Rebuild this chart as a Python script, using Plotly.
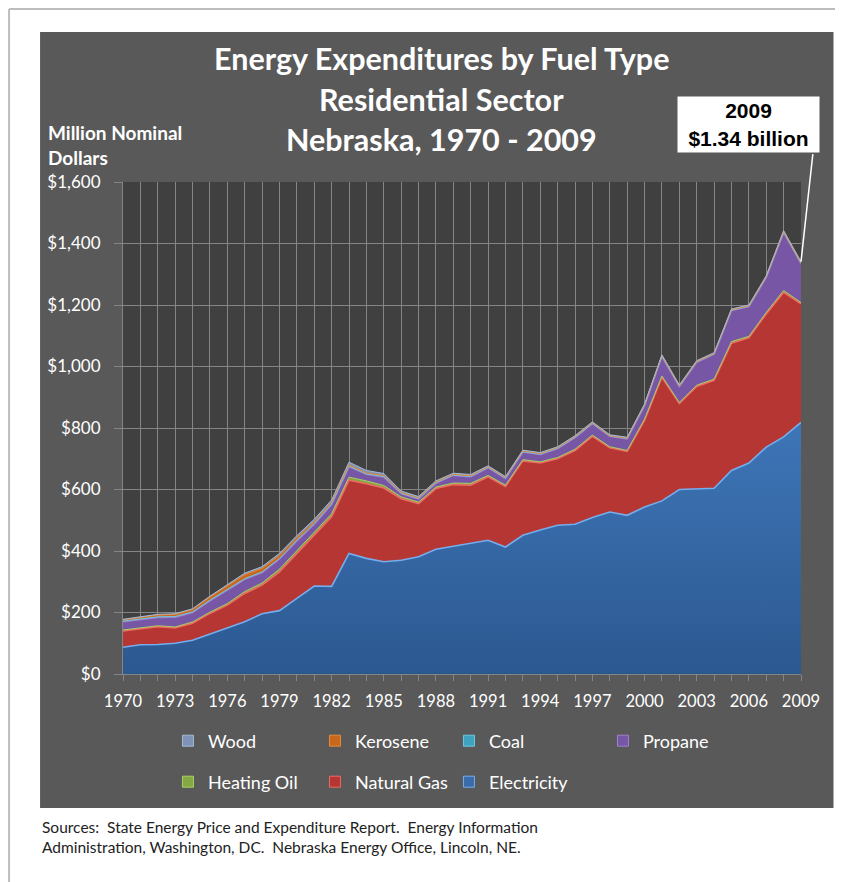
import plotly.graph_objects as go

# Nebraska residential energy expenditures, million nominal dollars
years = list(range(1970, 2010))

electricity = [87, 95, 96, 100, 110, 130, 150, 170, 196, 206,
               246, 286, 285, 392, 376, 365, 370, 381, 406, 416,
               424, 435, 413, 451, 468, 484, 487, 509, 527, 516,
               543, 563, 600, 602, 604, 662, 686, 738, 771, 818]
natural_gas = [53, 53, 58, 50, 55, 67, 74, 92, 93, 126,
               146, 165, 226, 238, 243, 240, 200, 173, 197, 200,
               190, 206, 197, 242, 218, 216, 240, 264, 209, 208,
               282, 402, 280, 333, 351, 414, 407, 433, 470, 386]
heating_oil = [3, 3, 3, 3, 4, 4, 5, 6, 7, 9,
               10, 11, 10, 10, 9, 8, 6, 5, 5, 5,
               6, 5, 4, 4, 4, 4, 4, 4, 3, 3,
               4, 4, 3, 4, 4, 5, 5, 5, 6, 4]
propane = [27, 25, 27, 32, 31, 37, 43, 40, 34, 33,
           31, 25, 31, 35, 22, 28, 11, 11, 13, 25,
           22, 25, 22, 25, 24, 29, 38, 37, 34, 38,
           44, 64, 52, 75, 81, 101, 97, 114, 189, 127]
coal = [2, 2, 2, 2, 2, 2, 2, 2, 2, 2,
        2, 2, 1, 1, 1, 1, 1, 1, 1, 1,
        1, 1, 1, 1, 1, 1, 1, 1, 1, 1,
        1, 1, 1, 1, 1, 1, 1, 1, 1, 1]
kerosene = [4, 5, 6, 7, 8, 10, 12, 13, 12, 10,
            8, 6, 5, 4, 3, 3, 2, 2, 2, 2,
            2, 2, 2, 2, 2, 2, 2, 2, 1, 1,
            1, 1, 1, 1, 1, 1, 1, 1, 1, 1]
wood = [2, 2, 2, 2, 2, 3, 4, 5, 5, 6,
        7, 8, 8, 9, 8, 7, 5, 4, 4, 4,
        4, 3, 3, 3, 3, 3, 3, 3, 3, 3,
        3, 3, 3, 3, 3, 3, 3, 3, 4, 4]

# name, values, fill, edge highlight, legend, legend item width
series = [
    ("Electricity", electricity, "#3A6CAC", "#74AEEE", "legend2", None),
    ("Natural Gas", natural_gas, "#B53633", "#EE6A63", "legend2", 89),
    ("Heating Oil", heating_oil, "#86A844", "#A9D062", "legend2", 102),
    ("Propane", propane, "#7856A6", "#9F80CC", "legend", None),
    ("Coal", coal, "#3FA3C0", "#6CC9E2", "legend", 109),
    ("Kerosene", kerosene, "#C8681C", "#E58A3A", "legend", 89),
    ("Wood", wood, "#7F93B6", "#A6B8D6", "legend", 102),
]

FONT = "Lato, 'Open Sans', sans-serif"
GRID = "#858585"

# page offset of the figure (browser body margin)
OFF = 8
W, H = 843 - OFF, 882 - OFF
# plot area in page pixels: x 123..801.5, y 182..674
L, R, T, B = 123, 801.5, 182, 674


def px(x):
    return (x - L) / (R - L)


def py(y):
    return (B - y) / (B - T)


fig = go.Figure()

for name, vals, fill, edge, _, _ in series:
    trace = dict(
        x=years, y=vals, name=name, stackgroup="one", mode="lines",
        line=dict(color=edge, width=1.6 if max(vals) > 50 else 1),
        fillcolor=fill, showlegend=False,
        hovertemplate=name + ": $%{y:,}M<extra>%{x}</extra>",
    )
    if name == "Electricity":
        trace["fillgradient"] = dict(
            type="vertical",
            colorscale=[[0, "#2C5890"], [1, "#3E76B8"]],
        )
    fig.add_trace(go.Scatter(**trace))

# legend entries as small squares, in the reference's order
legend_order = ["Wood", "Kerosene", "Coal", "Propane",
                "Heating Oil", "Natural Gas", "Electricity"]
by_name = {s[0]: s for s in series}
for name in legend_order:
    _, _, fill, edge, leg, lw = by_name[name]
    kw = dict(legendwidth=lw) if lw else {}
    fig.add_trace(go.Scatter(
        x=[None], y=[None], mode="markers", name=name, legend=leg,
        marker=dict(symbol="square", size=11, color=fill,
                    line=dict(color=edge, width=1)),
        hoverinfo="skip", **kw,
    ))

legend_style = dict(
    orientation="h", xanchor="left", yanchor="middle",
    font=dict(family=FONT, size=18, color="white"),
    bgcolor="rgba(0,0,0,0)", itemclick=False, traceorder="normal",
    entrywidthmode="pixels",
)

shapes = [
    # page frame
    dict(type="line", xref="paper", yref="paper",
         x0=px(9), x1=px(843), y0=py(9), y1=py(9),
         line=dict(color="#BDBDBD", width=2), layer="below"),
    dict(type="line", xref="paper", yref="paper",
         x0=px(9), x1=px(9), y0=py(9), y1=py(882),
         line=dict(color="#BDBDBD", width=2), layer="below"),
    # dark chart panel
    dict(type="rect", xref="paper", yref="paper",
         x0=px(40), x1=px(834), y0=py(808), y1=py(32),
         fillcolor="#595959", line=dict(width=0), layer="below"),
    # plot area background
    dict(type="rect", xref="paper", yref="paper",
         x0=0, x1=1, y0=0, y1=1,
         fillcolor="#404040", line=dict(width=0), layer="below"),
]

title_lines = ["Energy Expenditures by Fuel Type", "Residential Sector",
               "Nebraska, 1970 - 2009"]
title_y = [58, 99, 139]

annotations = []
for text, y in zip(title_lines, title_y):
    annotations.append(dict(
        text=text, xref="paper", yref="paper", x=px(442), y=py(y),
        xanchor="center", yanchor="middle", showarrow=False,
        font=dict(family=FONT, size=30.5, color="white", weight="bold"),
    ))

for text, y in [("Million Nominal", 132), ("Dollars", 157)]:
    annotations.append(dict(
        text=text, xref="paper", yref="paper", x=px(46), y=py(y),
        xanchor="left", yanchor="middle", showarrow=False,
        font=dict(family=FONT, size=19, color="white", weight="bold"),
    ))

total_2009 = sum(s[1][-1] for s in series)
annotations.append(dict(
    x=years[-1], y=total_2009, xref="x", yref="y", text="",
    showarrow=True, arrowhead=0, arrowwidth=1.5, arrowcolor="white",
    ax=12, ay=-109, standoff=0,
))
annotations.append(dict(
    text="<b>2009<br>$1.34 billion</b>", xref="paper", yref="paper",
    x=px(748.5), y=py(124.5), xanchor="center", yanchor="middle",
    showarrow=False, bgcolor="white", width=139, height=53, borderpad=1,
    font=dict(family="'Liberation Sans', Arial, sans-serif", size=21,
              color="black"),
))

sources = ["Sources:  State Energy Price and Expenditure Report.  Energy Information",
           "Administration, Washington, DC.  Nebraska Energy Office, Lincoln, NE."]
for text, y in zip(sources, [827, 847]):
    annotations.append(dict(
        text=text, xref="paper", yref="paper", x=px(40), y=py(y),
        xanchor="left", yanchor="middle", align="left", showarrow=False,
        font=dict(family=FONT, size=15.5, color="#222222"),
    ))

fig.update_layout(
    width=W, height=H,
    margin=dict(l=L - OFF, r=W - (R - OFF), t=T - OFF, b=H - (B - OFF), pad=0),
    paper_bgcolor="white",
    plot_bgcolor="rgba(0,0,0,0)",
    showlegend=True,
    legend=dict(x=px(168), y=py(741), **legend_style),
    legend2=dict(x=px(168), y=py(782), **legend_style),
    shapes=shapes,
    annotations=annotations,
    hovermode="x unified",
)

fig.update_xaxes(
    range=[1970, 2009], tickmode="linear", tick0=1970, dtick=3,
    showgrid=True, gridcolor=GRID, gridwidth=1.2,
    ticks="outside", ticklen=6, tickcolor=GRID,
    showline=True, linecolor=GRID, linewidth=1.2, zeroline=False,
    tickfont=dict(family=FONT, size=16.5, color="white"),
    ticklabelstandoff=6,
    minor=dict(dtick=1, tick0=1970, showgrid=True, gridcolor=GRID,
               gridwidth=1.2, ticks="outside", ticklen=6, tickcolor=GRID),
)
fig.update_yaxes(
    range=[0, 1600], dtick=200, tickprefix="$", tickformat=",d",
    showgrid=True, gridcolor=GRID, gridwidth=1.2,
    ticks="outside", ticklen=8, tickcolor=GRID,
    showline=True, linecolor=GRID, linewidth=1.2, zeroline=False,
    tickfont=dict(family=FONT, size=17, color="white"),
    ticklabelstandoff=10,
)

fig.write_html("out.html")
